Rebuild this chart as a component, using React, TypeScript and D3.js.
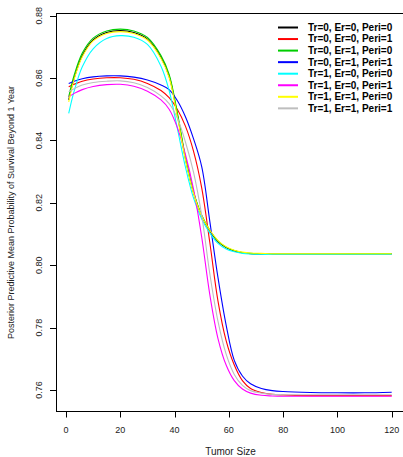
import React, { useEffect, useRef } from "react";
import * as d3 from "d3";

const sizes = [1, 3, 6, 10, 15, 20, 25, 30, 35, 38, 41, 44, 47, 50, 53, 56, 59, 62, 65, 68, 72, 76, 80, 90, 100, 110, 120];

const tr0er0peri0 = [0.8530, 0.8600, 0.8672, 0.8722, 0.8746, 0.8752, 0.8746, 0.8725, 0.8667, 0.8606, 0.8484, 0.8342, 0.8232, 0.8158, 0.8110, 0.8076, 0.8057, 0.8046, 0.8040, 0.8037, 0.8036, 0.8036, 0.8036, 0.8036, 0.8036, 0.8036, 0.8036];
const tr0er0peri1 = [0.8572, 0.8580, 0.8590, 0.8597, 0.8601, 0.8601, 0.8596, 0.8583, 0.8560, 0.8537, 0.8500, 0.8446, 0.8365, 0.8248, 0.8072, 0.7885, 0.7758, 0.7680, 0.7630, 0.7605, 0.7592, 0.7586, 0.7584, 0.7582, 0.7582, 0.7582, 0.7582];
const tr0er1peri0 = [0.8540, 0.8609, 0.8680, 0.8728, 0.8751, 0.8757, 0.8751, 0.8730, 0.8672, 0.8612, 0.8490, 0.8347, 0.8235, 0.8160, 0.8112, 0.8078, 0.8058, 0.8047, 0.8041, 0.8038, 0.8037, 0.8036, 0.8036, 0.8036, 0.8036, 0.8037, 0.8037];
const tr0er1peri1 = [0.8583, 0.8590, 0.8598, 0.8604, 0.8607, 0.8607, 0.8603, 0.8594, 0.8578, 0.8563, 0.8528, 0.8476, 0.8405, 0.8316, 0.8140, 0.7960, 0.7808, 0.7695, 0.7645, 0.7620, 0.7605, 0.7598, 0.7595, 0.7592, 0.7591, 0.7591, 0.7593];
const tr1er0peri0 = [0.8487, 0.8558, 0.8636, 0.8694, 0.8727, 0.8736, 0.8731, 0.8708, 0.8638, 0.8560, 0.8440, 0.8315, 0.8215, 0.8148, 0.8103, 0.8070, 0.8052, 0.8043, 0.8038, 0.8036, 0.8035, 0.8035, 0.8035, 0.8035, 0.8035, 0.8035, 0.8035];
const tr1er0peri1 = [0.8540, 0.8551, 0.8563, 0.8573, 0.8579, 0.8580, 0.8574, 0.8558, 0.8530, 0.8500, 0.8442, 0.8355, 0.8243, 0.8090, 0.7905, 0.7765, 0.7680, 0.7630, 0.7603, 0.7590, 0.7583, 0.7581, 0.7580, 0.7580, 0.7580, 0.7580, 0.7580];
const tr1er1peri0 = [0.8524, 0.8596, 0.8668, 0.8719, 0.8743, 0.8749, 0.8743, 0.8722, 0.8663, 0.8602, 0.8478, 0.8338, 0.8230, 0.8158, 0.8112, 0.8079, 0.8059, 0.8048, 0.8042, 0.8039, 0.8038, 0.8037, 0.8037, 0.8037, 0.8037, 0.8037, 0.8037];
const tr1er1peri1 = [0.8556, 0.8566, 0.8578, 0.8586, 0.8590, 0.8591, 0.8585, 0.8570, 0.8543, 0.8518, 0.8472, 0.8395, 0.8298, 0.8160, 0.7972, 0.7820, 0.7715, 0.7650, 0.7615, 0.7598, 0.7590, 0.7586, 0.7585, 0.7585, 0.7585, 0.7585, 0.7585];

const labels = [
  "Tr=0, Er=0, Peri=0", "Tr=0, Er=0, Peri=1", "Tr=0, Er=1, Peri=0", "Tr=0, Er=1, Peri=1",
  "Tr=1, Er=0, Peri=0", "Tr=1, Er=0, Peri=1", "Tr=1, Er=1, Peri=0", "Tr=1, Er=1, Peri=1",
];
const colors = ["#000000", "#ff0000", "#00cd00", "#0000ff", "#00ffff", "#ff00ff", "#ffff00", "#bebebe"];
const xTicks = [0, 20, 40, 60, 80, 100, 120];
const yTicks = [0.76, 0.78, 0.8, 0.82, 0.84, 0.86, 0.88];

const series = [tr0er0peri0, tr0er0peri1, tr0er1peri0, tr0er1peri1, tr1er0peri0, tr1er0peri1, tr1er1peri0, tr1er1peri1];

export default function App() {
  const svgRef = useRef<SVGSVGElement>(null);

  useEffect(() => {
    const svg = d3.select(svgRef.current);
    svg.selectAll("*").remove();
    const font = "'Liberation Sans', Arial, sans-serif";

    const x = d3.scaleLinear().domain([0, 120]).range([66, 391.7]);
    const y = d3.scaleLinear().domain([0.76, 0.88]).range([390, 15.7]);
    const left = 56.5, top = 13.5, bottom = 411.5, right = x(124.76);

    const line = d3.line<number>()
      .x((_, i) => x(sizes[i]))
      .y(d => y(d))
      .curve(d3.curveCatmullRom.alpha(0.5));

    series.forEach((s, i) => {
      svg.append("path")
        .attr("d", line(s))
        .attr("fill", "none")
        .attr("stroke", colors[i])
        .attr("stroke-width", 1.1);
    });

    svg.append("rect")
      .attr("x", left).attr("y", top)
      .attr("width", right - left).attr("height", bottom - top)
      .attr("fill", "none").attr("stroke", "#000").attr("stroke-width", 1);

    // x axis
    const xa = svg.append("g").attr("transform", `translate(0,${bottom})`);
    xa.append("line").attr("x1", x(0)).attr("x2", x(120)).attr("stroke", "#000");
    xTicks.forEach(t => {
      xa.append("line").attr("x1", Math.round(x(t)) + 0.5).attr("x2", Math.round(x(t)) + 0.5)
        .attr("y1", 0).attr("y2", 6).attr("stroke", "#000");
      xa.append("text").attr("x", x(t)).attr("y", 21.5)
        .attr("text-anchor", "middle").attr("font-family", font).attr("font-size", 9)
        .attr("fill", "#222").text(t);
    });

    // y axis
    const ya = svg.append("g").attr("transform", `translate(${left},0)`);
    ya.append("line").attr("y1", y(0.76)).attr("y2", y(0.88)).attr("stroke", "#000");
    yTicks.forEach(t => {
      const py = Math.round(y(t)) + 0.5;
      ya.append("line").attr("x1", 0).attr("x2", -6.5).attr("y1", py).attr("y2", py).attr("stroke", "#000");
      ya.append("text").attr("transform", `translate(-15,${y(t)}) rotate(-90)`)
        .attr("text-anchor", "middle").attr("font-family", font).attr("font-size", 9)
        .attr("fill", "#222").text(d3.format(".2f")(t));
    });

    svg.append("text").attr("x", (left + right) / 2).attr("y", 455)
      .attr("text-anchor", "middle").attr("font-family", font).attr("font-size", 10)
      .attr("fill", "#222").text("Tumor Size");
    svg.append("text").attr("transform", `translate(13.5,${(top + bottom) / 2}) rotate(-90)`)
      .attr("text-anchor", "middle").attr("font-family", font).attr("font-size", 9)
      .attr("fill", "#222").text("Posterior Predictive Mean Probability of Survival Beyond 1 Year");

    // legend
    const lg = svg.append("g").attr("transform", "translate(278,27.5)");
    labels.forEach((l, i) => {
      lg.append("line").attr("x1", 0).attr("x2", 20).attr("y1", i * 11.55).attr("y2", i * 11.55)
        .attr("stroke", colors[i]).attr("stroke-width", 2);
      lg.append("text").attr("x", 30).attr("y", i * 11.55 + 3.4)
        .attr("font-family", font).attr("font-size", 10).attr("font-weight", "bold")
        .attr("fill", "#000").text(l);
    });
  }, []);

  return (
    <svg ref={svgRef} width={403} height={457}
      style={{ position: "absolute", left: 0, top: 0, background: "#fff" }} />
  );
}
